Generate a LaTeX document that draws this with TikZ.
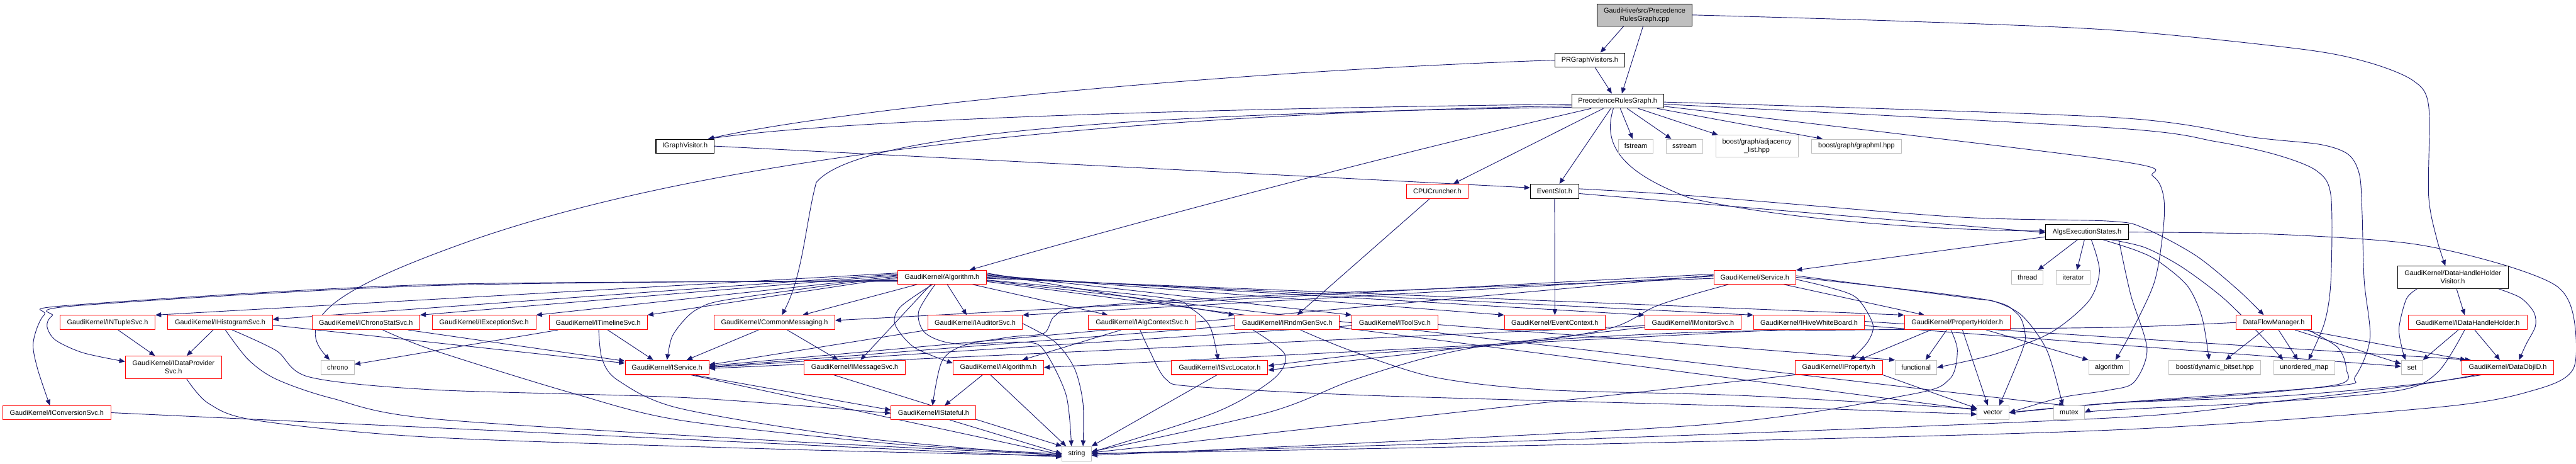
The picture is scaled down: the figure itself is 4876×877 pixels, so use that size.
\documentclass[tikz,border=0pt]{standalone}
\usepackage{fontspec}
\setmainfont{Liberation Sans}
\usetikzlibrary{arrows.meta}
\definecolor{edgec}{HTML}{191970}
\definecolor{graybd}{HTML}{BFBFBF}
\definecolor{topfill}{HTML}{BFBFBF}
\newcommand{\nfont}{\fontsize{13}{15.5}\selectfont}
\pgfdeclarelayer{bg}
\pgfsetlayers{bg,main}
\tikzset{
 nbase/.style={rectangle, inner sep=0pt, align=center, font=\nfont, line width=1.2pt, text=black, fill=white},
 nblk/.style={nbase, draw=black},
 nred/.style={nbase, draw=red},
 ngry/.style={nbase, draw=graybd},
 ntop/.style={nbase, draw=black, fill=topfill},
 edg/.style={draw=edgec, line width=1.1pt, -{Triangle[length=11pt,width=9pt]}},
 sm/.style={smooth, tension=0.5},
}
\begin{document}
\begin{tikzpicture}[x=1pt,y=-1pt]
\useasboundingbox (0,0) rectangle (4876,877);
% ---------- nodes ----------
\node[ntop, minimum width=179pt, minimum height=42pt] (cpp) at (3113,28.3) {GaudiHive/src/Precedence\\RulesGraph.cpp};
\node[nblk, minimum width=132pt, minimum height=27pt] (prgv) at (3009.3,113.7) {PRGraphVisitors.h};
\node[nblk, minimum width=174pt, minimum height=27pt] (prg) at (3061.9,191) {PrecedenceRulesGraph.h};
\node[nblk, minimum width=110pt, minimum height=26pt] (igv) at (1296.6,276.3) {IGraphVisitor.h};
\node[ngry, minimum width=66pt, minimum height=26pt] (fstream) at (3096.4,276.3) {fstream};
\node[ngry, minimum width=70pt, minimum height=26pt] (sstream) at (3188.6,276.3) {sstream};
\node[ngry, minimum width=156pt, minimum height=41.6pt] (adjl) at (3325.5,276.5) {boost/graph/adjacency\\\_list.hpp};
\node[ngry, minimum width=171pt, minimum height=26pt] (gml) at (3514,276.3) {boost/graph/graphml.hpp};
\node[nred, minimum width=116pt, minimum height=27.4pt] (cpu) at (2720.6,362) {CPUCruncher.h};
\node[nblk, minimum width=91.5pt, minimum height=27.4pt] (evslot) at (2942.6,362) {EventSlot.h};
\node[nblk, minimum width=157pt, minimum height=27.7pt] (algs) at (3950.5,438.8) {AlgsExecutionStates.h};
\node[nblk, minimum width=209.5pt, minimum height=42pt] (dhhv) at (4642.7,524.3) {GaudiKernel/DataHandleHolder\\Visitor.h};
\node[nred, minimum width=167.3pt, minimum height=26pt] (alg) at (1783,524.3) {GaudiKernel/Algorithm.h};
\node[nred, minimum width=155.4pt, minimum height=26pt] (svc) at (3321.6,524.3) {GaudiKernel/Service.h};
\node[ngry, minimum width=59.7pt, minimum height=26pt] (thread) at (3837.5,524.3) {thread};
\node[ngry, minimum width=65pt, minimum height=26pt] (iter) at (3924.3,524.3) {iterator};
% row 2
\node[nred, minimum width=180pt, minimum height=27pt] (ntuple) at (203.5,609.8) {GaudiKernel/INTupleSvc.h};
\node[nred, minimum width=198pt, minimum height=27pt] (ihist) at (416.6,609.8) {GaudiKernel/IHistogramSvc.h};
\node[nred, minimum width=204pt, minimum height=27pt] (ichrono) at (692.5,609.8) {GaudiKernel/IChronoStatSvc.h};
\node[nred, minimum width=196pt, minimum height=27pt] (iexc) at (916.3,609.8) {GaudiKernel/IExceptionSvc.h};
\node[nred, minimum width=185.7pt, minimum height=27pt] (itime) at (1132.3,609.8) {GaudiKernel/ITimelineSvc.h};
\node[nred, minimum width=228.5pt, minimum height=27pt] (cmsg) at (1466,609.8) {GaudiKernel/CommonMessaging.h};
\node[nred, minimum width=179pt, minimum height=27pt] (iaud) at (1845.8,609.8) {GaudiKernel/IAuditorSvc.h};
\node[nred, minimum width=203.4pt, minimum height=27pt] (ictx) at (2162,609.8) {GaudiKernel/IAlgContextSvc.h};
\node[nred, minimum width=198pt, minimum height=27pt] (irndm) at (2436.4,609.8) {GaudiKernel/IRndmGenSvc.h};
\node[nred, minimum width=162.7pt, minimum height=27pt] (itool) at (2640.3,609.8) {GaudiKernel/IToolSvc.h};
\node[nred, minimum width=191pt, minimum height=27pt] (evctx) at (2943.1,609.8) {GaudiKernel/EventContext.h};
\node[nred, minimum width=182.3pt, minimum height=27pt] (imon) at (3204.5,609.8) {GaudiKernel/IMonitorSvc.h};
\node[nred, minimum width=210pt, minimum height=27pt] (ihive) at (3424.3,609.8) {GaudiKernel/IHiveWhiteBoard.h};
\node[nred, minimum width=200pt, minimum height=27pt] (pholder) at (3704.7,609.8) {GaudiKernel/PropertyHolder.h};
\node[nred, minimum width=142pt, minimum height=27pt] (dfm) at (4304,609.8) {DataFlowManager.h};
\node[nred, minimum width=224pt, minimum height=27pt] (idhh) at (4671.2,609.8) {GaudiKernel/IDataHandleHolder.h};
% row 3
\node[nred, minimum width=182pt, minimum height=42.7pt] (idps) at (328.4,694.7) {GaudiKernel/IDataProvider\\Svc.h};
\node[ngry, minimum width=62.8pt, minimum height=27pt] (chrono) at (639.1,694.8) {chrono};
\node[nred, minimum width=158.4pt, minimum height=27pt] (isvc) at (1262.6,694.8) {GaudiKernel/IService.h};
\node[nred, minimum width=191.2pt, minimum height=27pt] (imsg) at (1617.9,694.8) {GaudiKernel/IMessageSvc.h};
\node[nred, minimum width=171.5pt, minimum height=27pt] (ialg) at (1889.8,694.8) {GaudiKernel/IAlgorithm.h};
\node[nred, minimum width=182pt, minimum height=27pt] (islo) at (2308.7,694.8) {GaudiKernel/ISvcLocator.h};
\node[nred, minimum width=165.8pt, minimum height=27pt] (iprop) at (3480.6,694.8) {GaudiKernel/IProperty.h};
\node[ngry, minimum width=78.4pt, minimum height=27pt] (func) at (3626.8,694.8) {functional};
\node[ngry, minimum width=77pt, minimum height=27pt] (algo) at (3992.2,694.8) {algorithm};
\node[ngry, minimum width=173.7pt, minimum height=27pt] (dbits) at (4192.5,694.8) {boost/dynamic\_bitset.hpp};
\node[ngry, minimum width=116.2pt, minimum height=27pt] (umap) at (4361.5,694.8) {unordered\_map};
\node[ngry, minimum width=40.2pt, minimum height=27pt] (setn) at (4565.4,694.8) {set};
\node[nred, minimum width=173.2pt, minimum height=27pt] (doid) at (4746.9,694.8) {GaudiKernel/DataObjID.h};
% row 4
\node[nred, minimum width=204.5pt, minimum height=26pt] (iconv) at (107.5,780.3) {GaudiKernel/IConversionSvc.h};
\node[nred, minimum width=160.6pt, minimum height=26pt] (istate) at (1767.1,780.3) {GaudiKernel/IStateful.h};
\node[ngry, minimum width=60pt, minimum height=26pt] (vec) at (3772.5,780.3) {vector};
\node[ngry, minimum width=57.5pt, minimum height=26pt] (mutex) at (3916.5,780.3) {mutex};
% row 5
\node[ngry, minimum width=55pt, minimum height=27.4pt] (str) at (2038,858) {string};

% ---------- edges ----------
\begin{pgfonlayer}{bg}
% top file
\draw[edg] ([xshift=-40]cpp.south) -- ([xshift=20]prgv.north);
\draw[edg] ([xshift=-3]cpp.south) -- ([xshift=8]prg.north);
\draw[edg] plot[sm] coordinates {(cpp.east) (3600,40) (4000,57) (4357,93) (4483,118) (4567,152) (4597,200) (4597,370) (4612,450) ([xshift=-14]dhhv.north)};
% PRGraphVisitors
\draw[edg] (prgv.west) .. controls (2200,140) and (1550,215) .. ([xshift=-12]igv.north east);
\draw[edg] ([xshift=10]prgv.south) -- ([xshift=-11]prg.north);
% PrecedenceRulesGraph.h
\draw[edg] ([yshift=-6pt]prg.west) .. controls (2300,205) and (1600,225) .. ([xshift=-12]igv.north east);
\draw[edg] ([yshift=-9pt]prg.west) .. controls (2200,215) and (1400,280) .. (900,452) .. controls (650,540) and (550,600) .. ([xshift=-15]chrono.north);
\draw[edg] ([yshift=-12pt]prg.west) .. controls (2100,215) and (1620,255) .. (1545,345) .. controls (1525,420) and (1520,520) .. ([xshift=14]cmsg.north);
\draw[edg] ([xshift=-50]prg.south) .. controls (2600,300) and (2150,420) .. ([xshift=52]alg.north);
\draw[edg] ([xshift=-27]prg.south) -- ([xshift=30]cpu.north);
\draw[edg] ([xshift=-13]prg.south) -- ([xshift=9]evslot.north);
\draw[edg] ([xshift=-8]prg.south) .. controls (3030,280) and (3080,330) .. (3200,375) .. controls (3400,420) and (3700,436) .. ([yshift=2pt]algs.west);
\draw[edg] ([xshift=5]prg.south) -- ([xshift=-6]fstream.north);
\draw[edg] ([xshift=18]prg.south) -- ([xshift=-25]sstream.north);
\draw[edg] ([xshift=39]prg.south) -- ([xshift=5]adjl.north west);
\draw[edg] ([xshift=75]prg.south) -- ([xshift=22]gml.north west);
\draw[edg] plot[sm] coordinates {([yshift=-2pt]prg.east) (4000,222) (4268,260) (4391,273) (4445,292) (4466,330) (4471,400) (4475,530) (4486,640) (4458,712) (4420,730) (4000,762) (vec.east)};
\draw[edg] plot[sm] coordinates {([yshift=-6pt]prg.east) (4000,242) (4196,268) (4310,293) (4385,323) (4412,370) (4412,530) (4400,610) ([xshift=8]umap.north)};
\draw[edg] plot[sm] coordinates {([yshift=-10pt]prg.east) (4000,303) (4075,333) (4095,370) (4095,430) (4078,533) (4033,630) ([xshift=12]algo.north)};
% IGraphVisitor
\draw[edg] (igv.east) -- ([yshift=7pt]evslot.west);
% CPUCruncher
\draw[edg] ([xshift=-15]cpu.south) -- ([xshift=19]irndm.north);
% EventSlot
\draw[edg] (evslot.south) -- (evctx.north);
\draw[edg] ([yshift=-4pt]evslot.east) -- ([yshift=-1pt]algs.west);
\draw[edg] plot[sm] coordinates {([yshift=5pt]evslot.east) (3200,370) (3700,410) (3990,418) (4060,432) (4156,483) (4235,547) ([xshift=-19]dfm.north)};
% AlgsExecutionStates
\draw[edg] ([yshift=-9pt]algs.west) -- (svc.north east);
\draw[edg] ([xshift=-18]algs.south) -- ([xshift=20]thread.north);
\draw[edg] ([xshift=-5]algs.south) -- ([xshift=7]iter.north);
\draw[edg] plot[sm] coordinates {([xshift=8]algs.south) (3974,513) (3953,570) (3880,630) (3775,670) (func.east)};
\draw[edg] plot[sm] coordinates {([xshift=30]algs.south) (4042,473) (4084,493) (4140,540) (4168,600) ([xshift=-11]dbits.north)};
\draw[edg] plot[sm] coordinates {([xshift=45]algs.south) (4060,468) (4130,505) (4210,565) (4285,640) ([xshift=-40]umap.north)};
\draw[edg] plot[sm] coordinates {([xshift=60]algs.south) (4033,557) (4064,660) (4039,723) (3990,738) (3900,752) (vec.east)};
\draw[edg] plot[sm] coordinates {(algs.east) (4307,443) (4559,460) (4726,497) (4838,540) (4871,597) (4871,697) (4799,737) (4614,770) (4000,813) (3000,840) (str.east)};
% Algorithm.h
\draw[edg] ([yshift=8pt]alg.west) -- (ntuple.north east);
\draw[edg] ([yshift=6pt]alg.west) -- ([yshift=6pt]ihist.east);
\draw[edg] ([yshift=4pt]alg.west) -- (ichrono.north east);
\draw[edg] ([yshift=2pt]alg.west) -- (iexc.north east);
\draw[edg] (alg.west) -- (itime.north east);
\draw[edg] ([xshift=-47]alg.south) -- ([xshift=53]cmsg.north);
\draw[edg] plot[sm] coordinates {([yshift=-3pt]alg.west) (1620,533) (1375,567) (1323,583) (1297,603) (1272,637) (isvc.north)};
\draw[edg] plot[sm] coordinates {([yshift=-6pt]alg.west) (820,540) (146,578) (99,597) (89,617) (105,643) (157,667) ([yshift=11pt]idps.west)};
\draw[edg] plot[sm] coordinates {([yshift=-8pt]alg.west) (820,538) (136,577) (84,595) (63,647) (71,697) ([xshift=-13]iconv.north)};
\draw[edg] ([xshift=10]alg.south) -- ([xshift=-16]iaud.north);
\draw[edg] ([xshift=58]alg.south) -- ([xshift=-65]ictx.north);
\draw[edg] ([yshift=8pt]alg.east) -- (irndm.north west);
\draw[edg] ([yshift=6pt]alg.east) -- (itool.north west);
\draw[edg] ([yshift=4pt]alg.east) -- (evctx.north west);
\draw[edg] ([yshift=2pt]alg.east) -- (imon.north west);
\draw[edg] (alg.east) -- (ihive.north west);
\draw[edg] ([yshift=-2pt]alg.east) -- (pholder.north west);
\draw[edg] ([xshift=-21]alg.south) -- ([xshift=11]imsg.north);
\draw[edg] plot[sm] coordinates {([xshift=-18]alg.south) (1704.6,580) (1694,613) (1730.8,657) ([yshift=8pt]ialg.west)};
\draw[edg] plot[sm] coordinates {([yshift=-5pt]alg.east) (2201,563) (2254,583) (2290,617) ([xshift=-3]islo.north)};
\draw[edg] plot[sm] coordinates {([xshift=-13]alg.south) (1738.6,590) (1751.7,630) (1809,650) (1940,647) (1976.6,663) (2018,747) ([xshift=-10]str.north)};
\draw[edg] ([yshift=-8pt]alg.east) -- ([yshift=5pt]vec.west);
\draw[edg] ([yshift=-6pt]alg.east) -- ([xshift=-8]mutex.north);
% Service.h
\draw[edg] ([yshift=4pt]svc.west) -- ([yshift=3pt]isvc.east);
\draw[edg] ([yshift=6pt]svc.west) -- ([yshift=4pt]cmsg.east);
\draw[edg] ([yshift=2pt]svc.west) -- (iaud.north east);
\draw[edg] plot[sm] coordinates {([xshift=-50]svc.south) (3200,558) (3132,580) (3050,620) (2870,650) (2600,668) ([yshift=3pt]islo.east)};
\draw[edg] ([xshift=55]svc.south) -- ([xshift=-62]pholder.north);
\draw[edg] plot[sm] coordinates {([yshift=-4pt]svc.east) (3461,543) (3514,563) (3545,613) (3535,647) ([xshift=22]iprop.north)};
\draw[edg] plot[sm] coordinates {([yshift=-2pt]svc.west) (2420,558) (2055,580) (1997,597) (1976,630) (1914,637) (1825,653) (1783,683) ([xshift=-2]istate.north)};
\draw[edg] plot[sm] coordinates {([yshift=3pt]svc.east) (3723,563) (3775,570) (3827.6,597) (3874.7,663) ([xshift=-12]mutex.north)};
\draw[edg] plot[sm] coordinates {(svc.east) (3749,565) (3817,592) (3833,630) (3827.6,663) ([xshift=12]vec.north)};
% lower Gaudi interfaces
\draw[edg] ([xshift=50]isvc.south) -- ([yshift=5pt]istate.west);
\draw[edg] ([xshift=45]isvc.south) -- ([yshift=-2pt]str.west);
\draw[edg] ([xshift=30]istate.south) -- (str.west);
\draw[edg] ([xshift=-30]ialg.south) -- ([xshift=21]istate.north);
\draw[edg] ([xshift=-15]ialg.south) -- ([xshift=-20]str.north);
\draw[edg] (iaud.south west) -- ([yshift=5pt]isvc.east);
\draw[edg] plot[sm] coordinates {([yshift=-2pt]iaud.east) (1997.5,647) (2034,697) (2050,763) ([xshift=12]str.north)};
\draw[edg] ([xshift=-40]ictx.south) -- ([xshift=45]ialg.north);
\draw[edg] plot[sm] coordinates {([xshift=-4]ictx.south) (2176,663) (2207,717) (2262,731) (2600,748) (3300,768) ([yshift=-3pt]vec.west)};
\draw[edg] ([yshift=-6pt]irndm.west) -- ([yshift=1pt]isvc.east);
\draw[edg] plot[sm] coordinates {([xshift=-65]irndm.south) (2432,670) (2410,717) (2300,780) ([yshift=3pt]str.east)};
\draw[edg] plot[sm] coordinates {([xshift=25]irndm.south) (2557,663) (2714,713) (2923,737) (3300,748) ([yshift=7pt]vec.west)};
\draw[edg] ([yshift=-6pt]itool.west) -- (isvc.east);
\draw[edg] ([yshift=-4pt]itool.east) -- (func.north west);
\draw[edg] ([yshift=-6pt]imon.west) -- ([yshift=-2pt]isvc.east);
\draw[edg] ([yshift=-9pt]imon.west) -- ([yshift=-5pt]islo.east);
\draw[edg] ([xshift=-60]ihive.south) -- (ialg.east);
\draw[edg] ([yshift=2pt]ihive.east) -- ([xshift=-70]doid.north);
\draw[edg] ([yshift=-6pt]ihive.east) -- ([yshift=2pt]setn.west);
\draw[edg] ([xshift=-50]pholder.south) -- ([xshift=38]iprop.north);
\draw[edg] ([xshift=-20]pholder.south) -- ([xshift=18]func.north);
\draw[edg] ([xshift=55]pholder.south) -- (algo.north west);
\draw[edg] ([xshift=10]pholder.south) -- ([xshift=-10]vec.north);
\draw[edg] plot[sm] coordinates {([xshift=-12]pholder.south) (3705,663) (3690,717) (3610,747) (3200,805) ([yshift=-3pt]str.east)};
\draw[edg] (iprop.south east) -- ([yshift=8pt]vec.west);
\draw[edg] (iprop.south west) -- ([yshift=2pt]str.east);
\draw[edg] ([xshift=-40]imsg.south) -- (str.north west);
\draw[edg] ([xshift=-5]islo.south) -- (str.north east);
\draw[edg] ([xshift=-30]cmsg.south) -- ([xshift=37]isvc.north);
\draw[edg] ([xshift=24]cmsg.south) -- ([xshift=-31]imsg.north);
\draw[edg] ([xshift=18]itime.south) -- ([xshift=-26]isvc.north);
\draw[edg] ([xshift=-76]itime.south) -- ([yshift=6pt]chrono.east);
\draw[edg] plot[sm] coordinates {([xshift=1]itime.south) (1140,680) (1171,720) (1286,772) (1620,827) ([yshift=-4pt]str.west)};
\draw[edg] ([xshift=20]ntuple.south) -- ([xshift=-35]idps.north);
\draw[edg] ([xshift=-13]ihist.south) -- ([xshift=25]idps.north);
\draw[edg] ([yshift=-5pt]ihist.east) -- ([yshift=-6pt]isvc.north west);
\draw[edg] ([xshift=80]ichrono.south) -- ([yshift=-2pt]isvc.north west);
\draw[edg] plot[sm] coordinates {([xshift=10]ihist.south) (470,680) (523,717) (628,753) (820,792) (1500,835) ([yshift=-2pt]str.west)};
\draw[edg] plot[sm] coordinates {([xshift=23]ihist.south) (523,663) (586,713) (820,737) (1300,752) ([yshift=-1pt]istate.west)};
\draw[edg] plot[sm] coordinates {([xshift=32]ichrono.south) (820,662) (1082,743) (1290,795) (1700,840) (str.west)};
\draw[edg] plot[sm] coordinates {([xshift=25]idps.south) (395,763) (486,795) (820,827) (1500,850) ([yshift=-4pt]str.west)};
\draw[edg] (iconv.east) -- ([yshift=-6pt]str.west);
% data handle side
\draw[edg] ([xshift=7]dhhv.south) -- ([xshift=-6]idhh.north);
\draw[edg] plot[sm] coordinates {([xshift=-67]dhhv.south) (4555,565) (4541,620) (4547,660) ([xshift=-12]setn.north)};
\draw[edg] plot[sm] coordinates {([xshift=86]dhhv.south) (4771,563) (4796,590) (4799,617) (4782,650) ([xshift=21]doid.north)};
\draw[edg] ([xshift=-18]idhh.south) -- (setn.north east);
\draw[edg] ([xshift=13]idhh.south) -- ([xshift=-15]doid.north);
\draw[edg] plot[sm] coordinates {([xshift=-6]idhh.south) (4615,703) (4542,738) (4300,760) (4000,775) (mutex.east)};
\draw[edg] ([xshift=-19]dfm.south) -- ([xshift=20]dbits.north);
\draw[edg] ([xshift=9]dfm.south) -- ([xshift=-12]umap.north);
\draw[edg] ([xshift=40]dfm.south) -- ([yshift=7pt]setn.west);
\draw[edg] ([xshift=56]dfm.south) -- ([xshift=-79]doid.north);
\draw[edg] plot[sm] coordinates {([xshift=65]dfm.south) (4425,657) (4441,697) (4425,727) (4200,750) (4000,762) (vec.east)};
\draw[edg] plot[sm] coordinates {(dfm.west) (4000,619) (3600,623) (3220,628) (2871,647) (2714,673) (2557,720) (2400,780) ([yshift=4pt]str.east)};
\draw[edg] plot[sm] coordinates {([xshift=-60]doid.south) (4559,730) (4300,760) (4000,790) (3000,830) (str.east)};
\draw[edg] plot[sm] coordinates {([xshift=-50]doid.south) (4559,728) (4300,750) (4000,762) (vec.east)};
\end{pgfonlayer}
\end{tikzpicture}
\end{document}
